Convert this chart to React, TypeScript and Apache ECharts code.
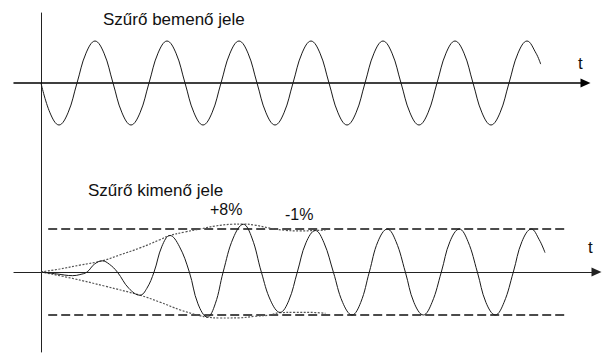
import React, { useEffect, useRef } from "react";
import * as echarts from "echarts";

// Input signal (filter input): time in periods, amplitude normalised
const inputTimes = [
  0, 0.125, 0.25, 0.375, 0.5, 0.625, 0.75, 0.875,
  1, 1.125, 1.25, 1.375, 1.5, 1.625, 1.75, 1.875,
  2, 2.125, 2.25, 2.375, 2.5, 2.625, 2.75, 2.875,
  3, 3.125, 3.25, 3.375, 3.5, 3.625, 3.75, 3.875,
  4, 4.125, 4.25, 4.375, 4.5, 4.625, 4.75, 4.875,
  5, 5.125, 5.25, 5.375, 5.5, 5.625, 5.75, 5.875,
  6, 6.125, 6.25, 6.375, 6.5, 6.625, 6.75, 6.875, 6.94,
];
const inputValues = [
  0, -0.71, -1, -0.71, 0, 0.71, 1, 0.71,
  0, -0.71, -1, -0.71, 0, 0.71, 1, 0.71,
  0, -0.71, -1, -0.71, 0, 0.71, 1, 0.71,
  0, -0.71, -1, -0.71, 0, 0.71, 1, 0.71,
  0, -0.71, -1, -0.71, 0, 0.71, 1, 0.71,
  0, -0.71, -1, -0.71, 0, 0.71, 1, 0.71,
  0, -0.71, -1, -0.71, 0, 0.71, 1, 0.71, 0.45,
];

// Output signal (filter output)
const outputTimes = [
  0, 0.22, 0.44, 0.54, 0.64, 0.74, 0.85, 0.95,
  1.06, 1.22, 1.375, 1.47, 1.57, 1.68, 1.79, 1.92,
  2.06, 2.18, 2.31, 2.42, 2.53, 2.67, 2.81, 2.93,
  3.06, 3.19, 3.32, 3.44, 3.56, 3.68, 3.81, 3.93,
  4.06, 4.19, 4.32, 4.44, 4.56, 4.68, 4.81, 4.93,
  5.06, 5.18, 5.31, 5.43, 5.56, 5.68, 5.81, 5.93,
  6.06, 6.18, 6.31, 6.43, 6.56, 6.68, 6.81, 6.92, 7.0,
];
const outputValues = [
  0, -0.045, -0.085, -0.06, 0, 0.18, 0.26, 0.18,
  0, -0.38, -0.54, -0.38, 0, 0.6, 0.85, 0.6,
  0, -0.74, -1.05, -0.74, 0, 0.79, 1.11, 0.79,
  0, -0.67, -0.94, -0.67, 0, 0.68, 0.965, 0.68,
  0, -0.71, -1.0, -0.71, 0, 0.71, 1.0, 0.71,
  0, -0.71, -1, -0.71, 0, 0.71, 1, 0.71,
  0, -0.71, -1, -0.71, 0, 0.71, 1, 0.75, 0.45,
];

// Envelopes (dotted)
const upperEnvTimes = [0, 0.26, 0.54, 0.85, 1.1, 1.375, 1.65, 1.79, 2.0, 2.21, 2.42, 2.65, 2.81, 2.97, 3.18, 3.39, 3.6, 3.81, 3.95];
const upperEnvValues = [0, 0.07, 0.16, 0.26, 0.4, 0.56, 0.75, 0.85, 0.93, 1.0, 1.07, 1.11, 1.115, 1.09, 1.02, 0.97, 0.955, 0.965, 0.975];
const lowerEnvTimes = [0, 0.44, 0.89, 1.375, 1.65, 1.93, 2.17, 2.31, 2.49, 2.76, 2.97, 3.18, 3.32, 3.53, 3.74, 3.95];
const lowerEnvValues = [0, -0.15, -0.33, -0.54, -0.7, -0.88, -1.0, -1.05, -1.07, -1.065, -1.03, -1.0, -0.945, -0.94, -0.94, -0.96];

// Steady-state level lines (dashed)
const upperLevel = { from: 0.1, to: 7.28, value: 1 };
const lowerLevel = { from: 0.1, to: 7.32, value: -1 };

const labels = {
  inputTitle: "Szűrő bemenő jele",
  outputTitle: "Szűrő kimenő jele",
  overshoot: "+8%",
  undershoot: "-1%",
  axis: "t",
};

const zip = (a: number[], b: number[]) => a.map((t, i) => [t, b[i]]);

export default function App() {
  const ref = useRef<HTMLDivElement>(null);
  useEffect(() => {
    if (!ref.current) return;
    const chart = echarts.init(ref.current, undefined, { renderer: "svg" });
    const font = '"Liberation Sans", Arial, sans-serif';
    const axisCommon = {
      type: "value",
      axisTick: { show: false },
      axisLabel: { show: false },
      splitLine: { show: false },
    };
    const waveStyle = { color: "#1a1a1a", width: 1 };
    const dotStyle = { color: "#555", width: 1.2, type: [2, 1.5] };
    const dashStyle = { color: "#111", width: 1.5, type: [9, 4] };
    const lineSeries = (name: string, data: number[][], idx: number, style: any, smooth = 0.4) => ({
      name,
      type: "line",
      xAxisIndex: idx,
      yAxisIndex: idx,
      data,
      showSymbol: false,
      symbol: "none",
      smooth,
      lineStyle: style,
      silent: true,
    });
    chart.setOption({
      animation: false,
      backgroundColor: "#ffffff",
      grid: [
        { left: 14, top: 13, width: 571.5, height: 147 },
        { left: 14, top: 160, width: 582.5, height: 192 },
      ],
      xAxis: [
        {
          ...axisCommon,
          gridIndex: 0,
          min: -0.375,
          max: 7.5625,
          axisLine: { show: true, onZero: true, symbol: ["none", "triangle"], symbolSize: [9, 10], lineStyle: { color: "#000", width: 1.5 } },
        },
        {
          ...axisCommon,
          gridIndex: 1,
          min: -0.375,
          max: 7.715,
          axisLine: { show: true, onZero: true, symbol: ["none", "triangle"], symbolSize: [9, 10], lineStyle: { color: "#222", width: 1.2 } },
        },
      ],
      yAxis: [
        {
          ...axisCommon,
          gridIndex: 0,
          min: -1.8333,
          max: 1.6667,
          axisLine: { show: true, onZero: true, lineStyle: { color: "#222", width: 1 } },
        },
        {
          ...axisCommon,
          gridIndex: 1,
          min: -1.8605,
          max: 2.6047,
          axisLine: { show: true, onZero: true, lineStyle: { color: "#222", width: 1 } },
        },
      ],
      series: [
        lineSeries("input", zip(inputTimes, inputValues), 0, waveStyle),
        lineSeries("upperLevel", [[upperLevel.from, upperLevel.value], [upperLevel.to, upperLevel.value]], 1, dashStyle, 0),
        lineSeries("lowerLevel", [[lowerLevel.from, lowerLevel.value], [lowerLevel.to, lowerLevel.value]], 1, dashStyle, 0),
        lineSeries("upperEnv", zip(upperEnvTimes, upperEnvValues), 1, dotStyle, 0.4),
        lineSeries("lowerEnv", zip(lowerEnvTimes, lowerEnvValues), 1, dotStyle, 0.4),
        lineSeries("output", zip(outputTimes, outputValues), 1, waveStyle),
      ],
      graphic: [
        { type: "text", x: 103, y: 19, style: { text: labels.inputTitle, font: `17px ${font}`, fill: "#111", verticalAlign: "middle" } },
        { type: "text", x: 88, y: 190, style: { text: labels.outputTitle, font: `17px ${font}`, fill: "#111", verticalAlign: "middle" } },
        { type: "text", x: 210, y: 209, style: { text: labels.overshoot, font: `16px ${font}`, fill: "#111", verticalAlign: "middle" } },
        { type: "text", x: 285, y: 214, style: { text: labels.undershoot, font: `16px ${font}`, fill: "#111", verticalAlign: "middle" } },
        { type: "text", x: 578, y: 63, style: { text: labels.axis, font: `17px ${font}`, fill: "#111", verticalAlign: "middle" } },
        { type: "text", x: 588, y: 247, style: { text: labels.axis, font: `17px ${font}`, fill: "#111", verticalAlign: "middle" } },
      ],
    });
    return () => chart.dispose();
  }, []);
  return (
    <div
      ref={ref}
      style={{ position: "fixed", left: 0, top: 0, width: 614, height: 357, background: "#fff" }}
    />
  );
}
